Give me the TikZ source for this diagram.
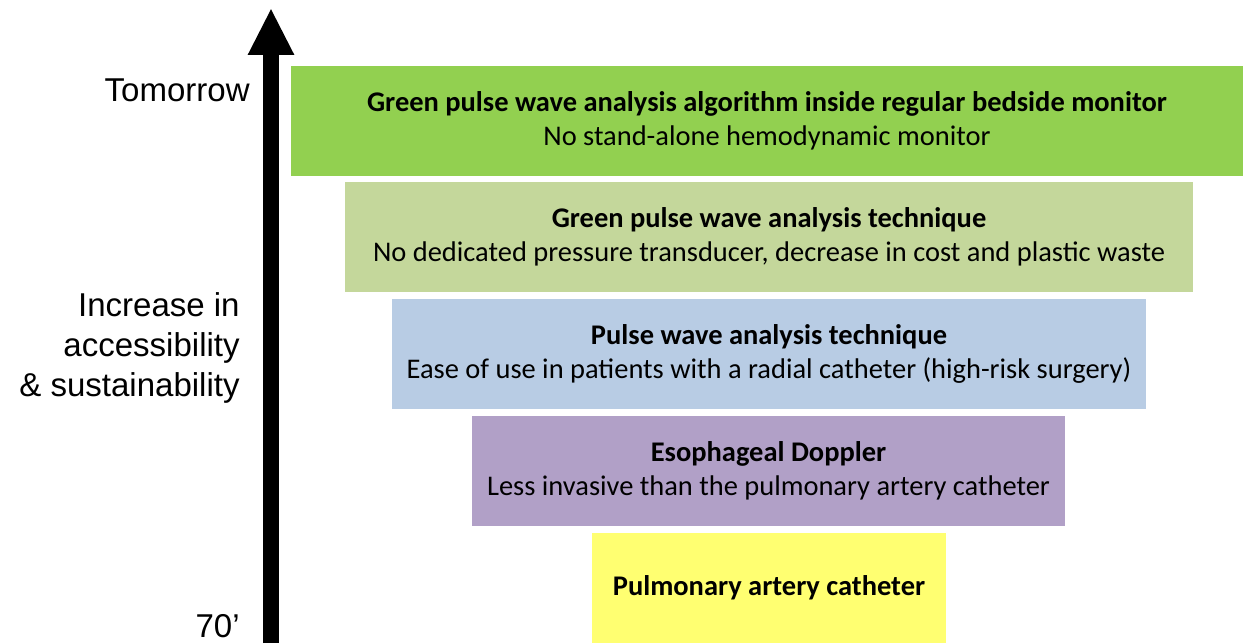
\documentclass[tikz,border=0pt]{standalone}
\usepackage{fontspec}
\setmainfont{Carlito}
\newfontfamily\labelfont{Liberation Sans}
\usetikzlibrary{arrows.meta}
\definecolor{lvlA}{HTML}{92D050}
\definecolor{lvlB}{HTML}{C4D79B}
\definecolor{lvlC}{HTML}{B8CCE4}
\definecolor{lvlD}{HTML}{B1A0C7}
\definecolor{lvlE}{HTML}{FFFF71}
\begin{document}
\begin{tikzpicture}%
  [x=0.02cm, y=-0.02cm,
   stage/.style={rectangle, inner sep=0pt, minimum height=2.2cm, align=center,
                 font=\fontsize{16.2}{19.4}\selectfont},
   side/.style={inner sep=0pt, anchor=east, align=right,
                font=\labelfont\fontsize{18.8}{23}\selectfont},
  ]
\useasboundingbox (0,0) rectangle (1243,643);
\node[stage, fill=lvlA, minimum width=19.04cm] (1) at (767,121)
  {\textbf{Green pulse wave analysis algorithm inside regular bedside monitor}\\
   No stand-alone hemodynamic monitor};
\node[stage, fill=lvlB, minimum width=16.96cm] (2) at (769,237)
  {\textbf{Green pulse wave analysis technique}\\
   No dedicated pressure transducer, decrease in cost and plastic waste};
\node[stage, fill=lvlC, minimum width=15.08cm] (3) at (769,354)
  {\textbf{Pulse wave analysis technique}\\
   Ease of use in patients with a radial catheter (high-risk surgery)};
\node[stage, fill=lvlD, minimum width=11.86cm] (4) at (768.5,471)
  {\textbf{Esophageal Doppler}\\
   Less invasive than the pulmonary artery catheter};
\node[stage, fill=lvlE, minimum width=7.08cm] (5) at (769,588)
  {\textbf{Pulmonary artery catheter}};

\node[side] (tomorrow) at (250,90) {Tomorrow};
\node[side] (increase) at (240,348) {Increase in\\accessibility\\\& sustainability};
\node[side] (past) at (240,626) {70’};

\coordinate (bot) at (271,643);
\coordinate (top) at (271,8);
\draw[line width=0.32cm, -{Triangle[width=0.86cm,length=0.94cm]}] (bot) -- (top);
\end{tikzpicture}
\end{document}
